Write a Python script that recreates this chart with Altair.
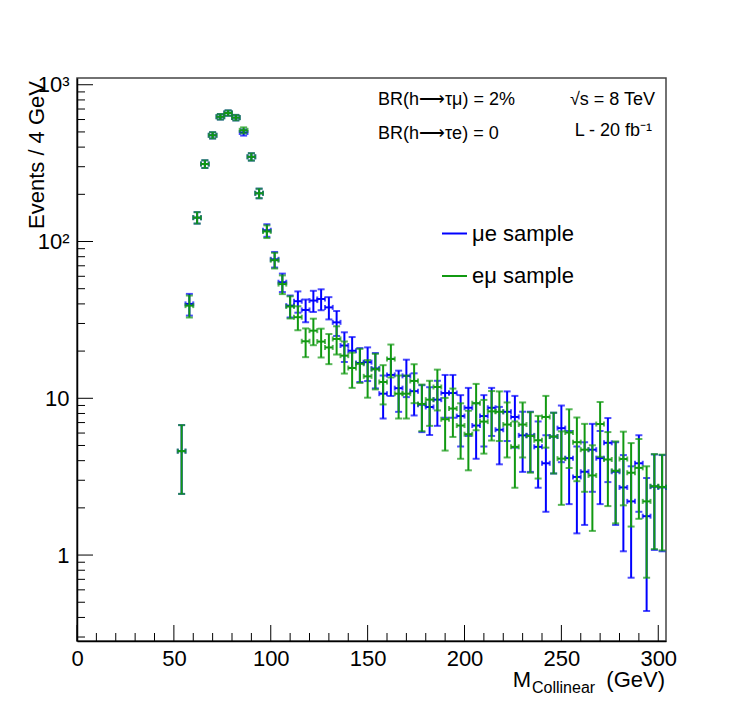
import altair as alt
import pandas as pd

# ---------------- data ----------------
bin_centers = [54, 58, 62, 66, 70, 74, 78, 82, 86, 90, 94, 98, 102, 106, 110, 114,
               118, 122, 126, 130, 134, 138, 142, 146, 150, 154, 158, 162, 166, 170,
               174, 178, 182, 186, 190, 194, 198, 202, 206, 210, 214, 218, 222, 226,
               230, 234, 238, 242, 246, 250, 254, 258, 262, 266, 270, 274, 278, 282,
               286, 290, 294, 298, 302]

mue_values = [4.6, 40, 142, 312, 476, 625, 660, 617, 496, 347, 203, 118, 77, 55, 39, 41.6,
              36.6, 42, 43, 38, 30.5, 21.7, 20.1, 16.8, 17, 15.5, 10.7, 14.1, 11.6, 13.9,
              11.1, 9.1, 8.8, 9.8, 10.8, 10.8, 7.7, 8.7, 6.7, 7.7, 8.7, 6.3, 8.2, 7.6,
              5.8, 5.8, 4.9, 3.85, 5.7, 6.45, 4.15, 3.15, 3.4, 4.7, 4.15, 5.2, 3.4, 2.7,
              2.2, 3.85, 1.77, 2.73, 2.7]

emu_values = [4.6, 39, 142, 312, 476, 625, 660, 617, 512, 347, 203, 116, 76, 53.5, 38.5, 32.9,
              23.1, 27, 23, 21.1, 23.9, 18.7, 15.6, 16.6, 13.8, 15.3, 12.7, 17.8, 10.7, 10.7,
              12.9, 9.2, 9.8, 11.8, 7.35, 8.6, 6.7, 5.9, 9.3, 7.1, 8.25, 8.2, 6.8, 4.9,
              6.8, 5.75, 5.4, 7.6, 5.7, 4.12, 6.05, 5.25, 4.7, 3.22, 6.85, 4.07, 3.45, 4.1,
              3.35, 3.6, 2.2, 2.75, 2.72]

series_names = ["\u03bce sample", "e\u03bc sample"]
series_colors = ["#0000ff", "#119911"]

x_major_ticks = [0, 50, 100, 150, 200, 250, 300]
x_minor_ticks = [10, 20, 30, 40, 60, 70, 80, 90, 110, 120, 130, 140, 160, 170, 180, 190,
                 210, 220, 230, 240, 260, 270, 280, 290]
y_major_ticks = [1, 10, 100, 1000]
y_minor_ticks = [0.3, 0.4, 0.5, 0.6, 0.7, 0.8, 0.9, 2, 3, 4, 5, 6, 7, 8, 9,
                 20, 30, 40, 50, 60, 70, 80, 90, 200, 300, 400, 500, 600, 700, 800, 900]

# ---------------- layout ----------------
W, H = 589, 563
FONT = "Liberation Sans"

df = pd.DataFrame({
    "c": bin_centers * 2,
    "v": mue_values + emu_values,
    "s": [series_names[0]] * len(bin_centers) + [series_names[1]] * len(bin_centers),
})

xs = alt.Scale(domain=[0, 304], nice=False, zero=False)
ys = alt.Scale(type="log", domain=[0.283, 1104], nice=False)

xaxis = alt.Axis(values=x_major_ticks, ticks=False, domain=True, domainColor="black",
                 domainWidth=1.5, grid=False, labelFont=FONT, labelFontSize=22,
                 labelColor="black", labelPadding=7, title=None, labelFlush=False)
yaxis = alt.Axis(values=y_major_ticks, ticks=False, domain=True, domainColor="black",
                 domainWidth=1.5, grid=False, labelFont=FONT, labelFontSize=22,
                 labelColor="black", labelPadding=8, title=None,
                 labelExpr="datum.value == 1 ? '1' : datum.value == 10 ? '10' : datum.value == 100 ? '10\u00b2' : '10\u00b3'")

layers = []
for name, col in zip(series_names, series_colors):
    base = alt.Chart(df).transform_filter(
        alt.datum.s == name
    ).transform_calculate(
        lo="datum.v - sqrt(datum.v)",
        hi="datum.v + sqrt(datum.v)",
        xlo="datum.c - 2",
        xhi="datum.c + 2",
    )
    vbar = base.mark_rule(color=col, strokeWidth=2).encode(
        x=alt.X("c:Q", scale=xs, axis=xaxis),
        y=alt.Y("lo:Q", scale=ys, axis=yaxis),
        y2="hi:Q",
    )
    hbar = base.mark_rule(color=col, strokeWidth=2).encode(
        x=alt.X("xlo:Q", scale=xs, axis=xaxis),
        x2="xhi:Q",
        y=alt.Y("v:Q", scale=ys, axis=yaxis),
    )
    vcap = base.transform_fold(["lo", "hi"], as_=["k", "yy"]).mark_tick(
        color=col, orient="horizontal", size=7, thickness=2
    ).encode(
        x=alt.X("c:Q", scale=xs, axis=xaxis),
        y=alt.Y("yy:Q", scale=ys, axis=yaxis),
    )
    hcap = base.transform_fold(["xlo", "xhi"], as_=["k", "xx"]).mark_tick(
        color=col, orient="vertical", size=5, thickness=2
    ).encode(
        x=alt.X("xx:Q", scale=xs, axis=xaxis),
        y=alt.Y("v:Q", scale=ys, axis=yaxis),
    )
    layers += [vbar, hbar, vcap, hcap]

# axis ticks drawn inside the frame (ROOT style)
def xticks(vals, length):
    return alt.Chart(pd.DataFrame({"t": vals})).mark_rule(color="black", strokeWidth=1).encode(
        x=alt.X("t:Q", scale=xs, axis=xaxis),
        y=alt.value(H - length), y2=alt.value(H))

def yticks(vals, length):
    return alt.Chart(pd.DataFrame({"t": vals})).mark_rule(color="black", strokeWidth=1).encode(
        y=alt.Y("t:Q", scale=ys, axis=yaxis),
        x=alt.value(0), x2=alt.value(length))

layers += [xticks(x_major_ticks, 16), xticks(x_minor_ticks, 8),
           yticks(y_major_ticks, 16), yticks(y_minor_ticks, 8)]

def label(txt, x, y, size, align="left", baseline="alphabetic", angle=0):
    return alt.Chart(pd.DataFrame({"t": [txt]})).mark_text(
        font=FONT, fontSize=size, align=align, baseline=baseline, angle=angle,
        color="black").encode(text="t:N", x=alt.value(x), y=alt.value(y))

# annotations
layers += [
    label("BR(h\u27f6\u03c4\u03bc) = 2%", 301, 27, 18),
    label("BR(h\u27f6\u03c4e) = 0", 301, 61, 18),
    label("\u221as = 8 TeV", 578, 27, 18, align="right"),
    label("L - 20 fb\u207b\u00b9", 575, 58, 18, align="right"),
    # axis titles
    label("(GeV)", 588, 609, 22, align="right"),
    label("Collinear", 455, 615, 16, align="left"),
    label("M", 454, 609, 22, align="right"),
    label("Events / 4 GeV", -40, 3, 22, align="right", baseline="middle", angle=270),
]

# legend
leg_y = [155.5, 198]
for name, col, ly in zip(series_names, series_colors, leg_y):
    layers.append(
        alt.Chart(pd.DataFrame({"t": [name]})).mark_rule(color=col, strokeWidth=2).encode(
            x=alt.value(365), x2=alt.value(390), y=alt.value(ly)))
    layers.append(label(name, 395, ly, 22, baseline="middle"))

chart = alt.layer(*layers).properties(
    width=W, height=H,
    autosize=alt.AutoSizeParams(type="none"),
    padding={"left": 69, "top": 70, "right": 57, "bottom": 60},
    background="white",
).configure_view(stroke="#444", strokeWidth=1.5)

chart.save("out.html", embed_options={"renderer": "svg", "actions": False})
